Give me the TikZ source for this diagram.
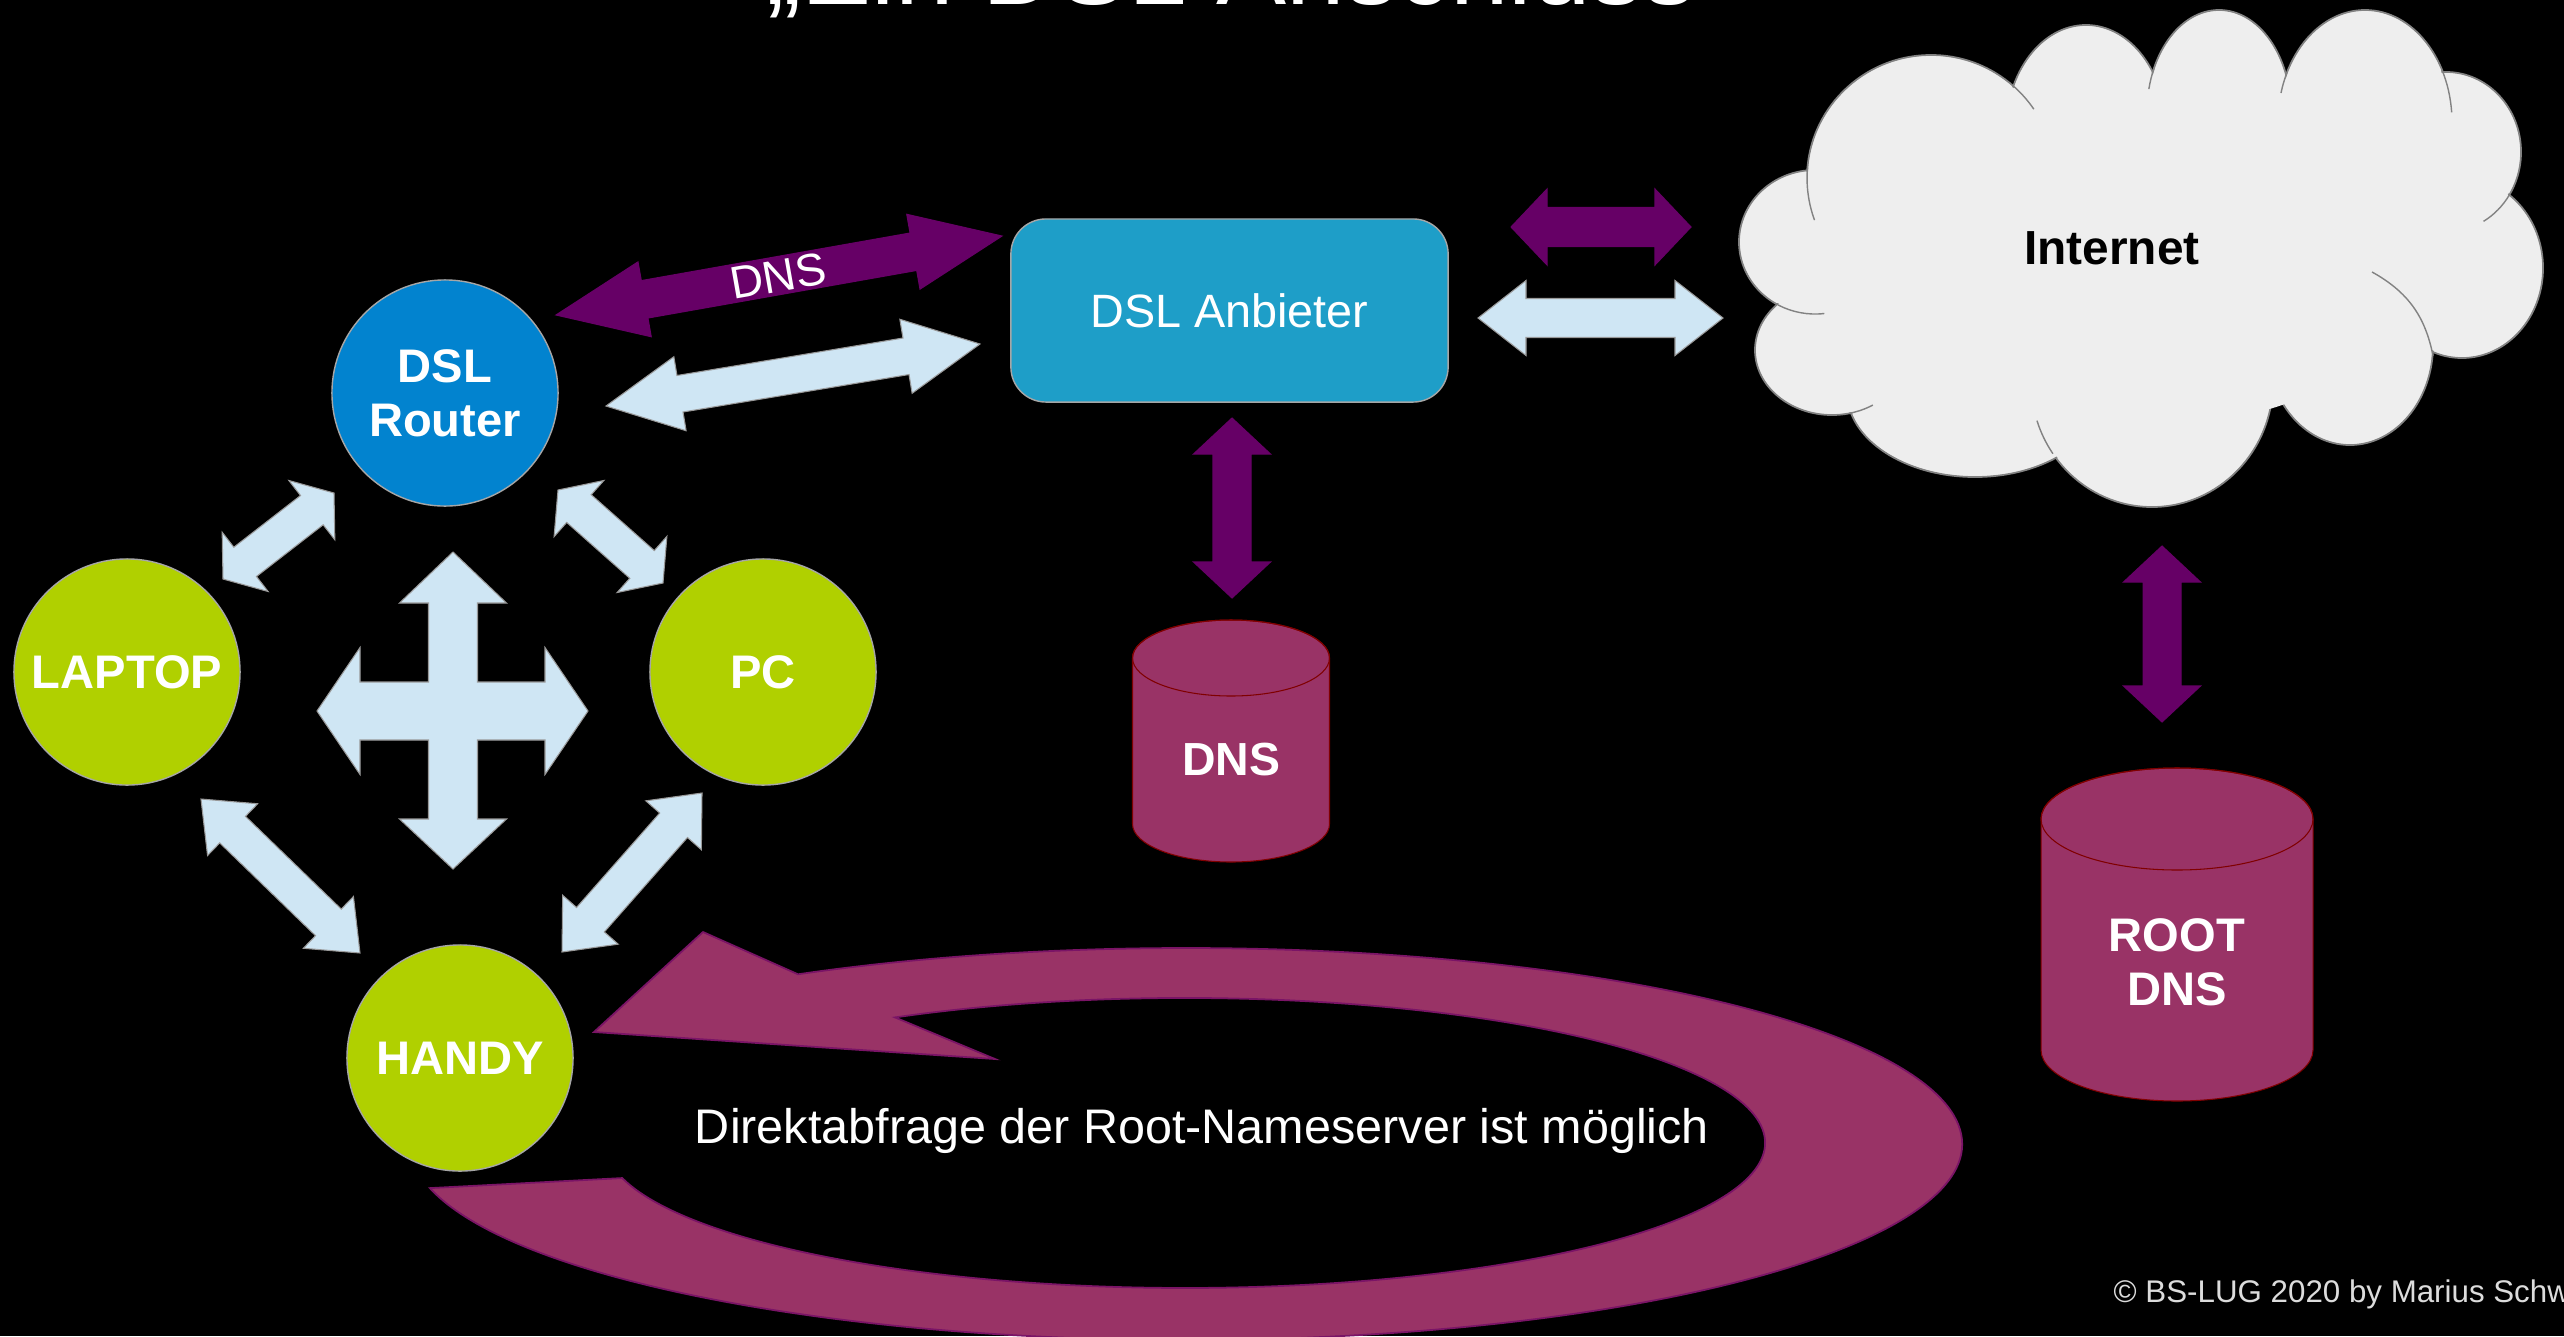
\documentclass[tikz,border=0pt]{standalone}
\usepackage{fontspec}
\setmainfont{Liberation Sans}
\usetikzlibrary{calc}
\definecolor{routerblue}{RGB}{2,131,207}
\definecolor{devgreen}{RGB}{176,208,0}
\definecolor{lblue}{RGB}{207,230,244}
\definecolor{dpurple}{RGB}{102,0,102}
\definecolor{magentatwo}{RGB}{153,51,102}
\definecolor{boxblue}{RGB}{30,158,200}
\definecolor{cloudgrey}{RGB}{238,238,238}
\definecolor{cloudedge}{RGB}{130,130,130}
\definecolor{copygrey}{RGB}{220,220,220}

% #1 style, #2 x1, #3 y1, #4 x2, #5 y2, #6 shaft width, #7 head width, #8 head length
\newcommand\blockarrow[8]{%
  \pgfmathsetmacro\baAng{atan2(-(#5-#3),#4-#2)}%
  \pgfmathsetmacro\baLen{veclen(#4-#2,#5-#3)}%
  \pgfmathsetmacro\baA{#8}%
  \pgfmathsetmacro\baB{\baLen-#8}%
  \pgfmathsetmacro\baS{#6/2}%
  \pgfmathsetmacro\baH{#7/2}%
  \begin{scope}[shift={(#2,#3)},rotate=\baAng]
    \path[#1] (0,0) -- (\baA,\baH) -- (\baA,\baS) -- (\baB,\baS) -- (\baB,\baH)
      -- (\baLen,0) -- (\baB,-\baH) -- (\baB,-\baS) -- (\baA,-\baS) -- (\baA,-\baH) -- cycle;
  \end{scope}}

\begin{document}
\begin{tikzpicture}[x=0.01cm,y=-0.01cm,
  dev/.style={circle, minimum size=2.26cm, inner sep=0pt, draw=gray!70, line width=0.4pt,
    fill=devgreen, text=white, font=\fontsize{13.4}{15.4}\selectfont\bfseries, align=center},
  lbarrow/.style={fill=lblue, draw=gray!80, line width=0.3pt},
  purarrow/.style={fill=dpurple, draw=dpurple, line width=0.3pt},
  dbbody/.style={fill=magentatwo, draw=red!50!black, line width=0.3pt},
  cloudline/.style={fill=cloudgrey, draw=cloudedge, line width=0.5pt},
  cloudfill/.style={fill=cloudgrey},
  cloudinner/.style={draw=cloudedge, line width=0.4pt}]
\useasboundingbox (0,0) rectangle (2564,1336);
\fill[black] (0,0) rectangle (2564,1336);
\clip (0,0) rectangle (2564,1336);

% title (cut off at the top)
\node[anchor=base west, inner sep=0pt, text=white, font=\fontsize{29.9}{32}\selectfont] (title) at (766,4) {„Ein DSL Anschluss“};

% cloud
\foreach \cx/\cy/\rx/\ry in {1815/242/76/72, 1931/178/124/123, 2086/130/80/105, 2219/112/72/102,
  2365/122/87/112, 2446/152/75/80, 2462/268/81/90, 2350/345/83/100, 2152/382/121/125,
  1975/392/128/85, 1832/350/77/65}
  \path[cloudline] (\cx,\cy) ellipse [x radius=\rx, y radius=\ry];
\foreach \cx/\cy/\rx/\ry in {1815/242/76/72, 1931/178/124/123, 2086/130/80/105, 2219/112/72/102,
  2365/122/87/112, 2446/152/75/80, 2462/268/81/90, 2350/345/83/100, 2152/382/121/125,
  1975/392/128/85, 1832/350/77/65, 2130/260/300/170}
  \path[cloudfill] (\cx,\cy) ellipse [x radius=\rx-1.5, y radius=\ry-1.5];
% short inner arcs of the cloud
\draw[cloudinner] (2013,85.7) arc[start angle=-48.6, end angle=-34, x radius=124, y radius=123];
\draw[cloudinner] (2154,68.1) arc[start angle=-154.5, end angle=-167, x radius=72, y radius=102];
\draw[cloudinner] (2287,72.4) arc[start angle=-153.7, end angle=-165, x radius=87, y radius=112];
\draw[cloudinner] (2442,70) arc[start angle=-27.7, end angle=-5, x radius=87, y radius=112];
\draw[cloudinner] (2509.4,194.8) arc[start angle=32.3, end angle=60, x radius=75, y radius=80];
\draw[cloudinner] (2372,272) to[bend left=25] (2433,356);
\draw[cloudinner] (2052.9,453.7) arc[start angle=145, end angle=162, x radius=121, y radius=125];
\draw[cloudinner] (1849.3,413.3) arc[start angle=77, end angle=58, x radius=77, y radius=65];
\draw[cloudinner] (1778.2,305) arc[start angle=119, end angle=83, x radius=76, y radius=72];
\draw[cloudinner] (1807.5,167.3) arc[start angle=185, end angle=160, x radius=124, y radius=123];
\node[text=black, font=\fontsize{13.6}{15}\selectfont\bfseries] (inet) at (2112,248) {Internet};

% big curved arrow
\path[fill=magentatwo, draw=dpurple!60!magentatwo, line width=0.5pt]
  (429.9,1188.1) arc[start angle=167, end angle=-120, x radius=776, y radius=196]
  -- (703,932) -- (594,1032) -- (995,1059) -- (895,1017.4)
  arc[start angle=-120, end angle=166, x radius=580, y radius=145] -- cycle;
\node[text=white, font=\fontsize{13.8}{16}\selectfont] (direkt) at (1202,1131) {Direktabfrage der Root-Nameserver ist möglich};

% devices
\node[dev, fill=routerblue] (router) at (445,393) {DSL\\Router};
\node[dev] (laptop) at (127,672) {LAPTOP};
\node[dev] (pc) at (763,672) {PC};
\node[dev] (handy) at (460,1058) {HANDY};

% DSL provider
\node[rectangle, rounded corners=0.35cm, minimum width=4.37cm, minimum height=1.83cm,
  fill=boxblue, draw=gray!70, line width=0.4pt, text=white,
  font=\fontsize{13.3}{15}\selectfont] (anb) at (1229.5,310.5) {DSL Anbieter};

% DNS cylinder
\path[dbbody] (1132.5,658) -- (1132.5,824) arc[start angle=180, end angle=0, x radius=98.5, y radius=38]
  -- (1329.5,658) arc[start angle=0, end angle=-180, x radius=98.5, y radius=38] -- cycle;
\draw[red!50!black, line width=0.3pt] (1231,658) ellipse [x radius=98.5, y radius=38];
\node[text=white, font=\fontsize{13.2}{15}\selectfont\bfseries] (dns) at (1231,760) {DNS};

% ROOT DNS cylinder
\path[dbbody] (2041,819) -- (2041,1050) arc[start angle=180, end angle=0, x radius=136, y radius=51]
  -- (2313,819) arc[start angle=0, end angle=-180, x radius=136, y radius=51] -- cycle;
\draw[red!50!black, line width=0.3pt] (2177,819) ellipse [x radius=136, y radius=51];
\node[text=white, font=\fontsize{13.4}{15.3}\selectfont\bfseries, align=center] (root) at (2177,962) {ROOT\\DNS};

% block arrows
\blockarrow{purarrow}{556}{315}{1002}{236}{38}{76}{90}
\node[rotate=10, text=white, font=\fontsize{13}{15}\selectfont] (dnslbl) at (778,276) {DNS};
\blockarrow{lbarrow}{606}{406}{980}{344}{37}{75}{75}
\blockarrow{purarrow}{1511}{227}{1691}{227}{39}{76}{36}
\blockarrow{lbarrow}{1478}{318}{1723}{318}{39}{75}{48}
\blockarrow{purarrow}{1232}{418}{1232}{598}{38}{77}{36}
\blockarrow{purarrow}{2162}{546}{2162}{722}{38}{77}{36}
\blockarrow{lbarrow}{223}{579}{334}{493}{37}{75}{28}
\blockarrow{lbarrow}{558}{490}{663}{583}{37}{75}{28}
\blockarrow{lbarrow}{201}{799}{360}{953}{37}{72}{44}
\blockarrow{lbarrow}{702}{793}{562}{952}{37}{74}{43}

% four-way arrow
\path[lbarrow] (453,552) -- (506.5,603) -- (477.5,603) -- (477.5,682) -- (545,682) -- (545,647.5)
  -- (588,711) -- (545,774.5) -- (545,740) -- (477.5,740) -- (477.5,819) -- (506.5,819)
  -- (453,869) -- (399.5,819) -- (428.5,819) -- (428.5,740) -- (360,740) -- (360,774.5)
  -- (317,711) -- (360,647.5) -- (360,682) -- (428.5,682) -- (428.5,603) -- (399.5,603) -- cycle;

% copyright
\node[anchor=base west, inner sep=0pt, text=copygrey, font=\fontsize{8.9}{10}\selectfont] (copy) at (2113,1302) {© BS-LUG 2020 by Marius Schw};
\end{tikzpicture}
\end{document}
